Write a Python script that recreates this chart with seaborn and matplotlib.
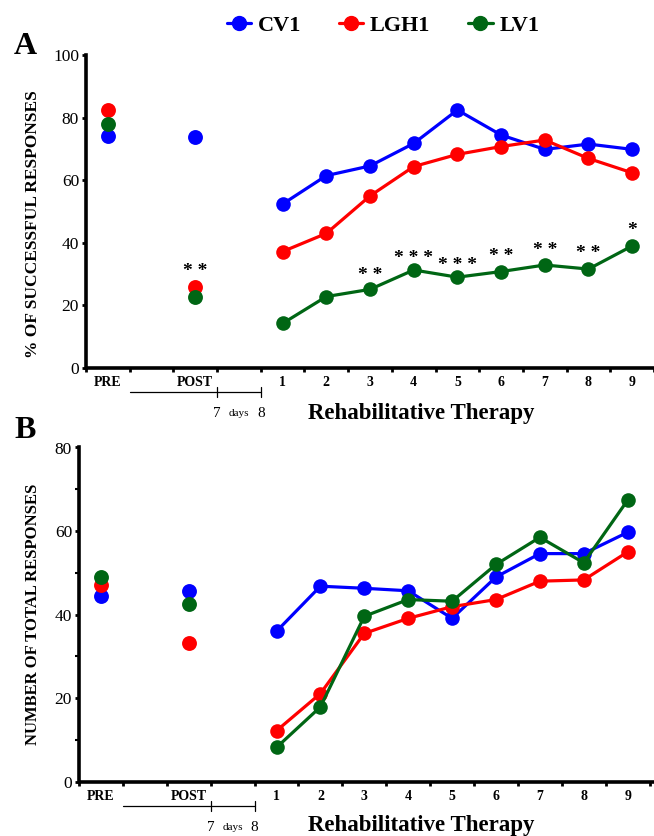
import numpy as np
import pandas as pd
import matplotlib.pyplot as plt
import seaborn as sns

# groups and colours
groups = ['CV1', 'LGH1', 'LV1']
colors = {'CV1': '#0000ff', 'LGH1': '#ff0000', 'LV1': '#006614'}

# x axis labels
phase_labels = ['PRE', 'POST']
session_labels = ['1', '2', '3', '4', '5', '6', '7', '8', '9']

# A - % of successful responses
a_pre = {'CV1': 74.2, 'LGH1': 82.4, 'LV1': 77.8}
a_post = {'CV1': 73.9, 'LGH1': 25.9, 'LV1': 22.5}
a_cv1 = [52.3, 61.4, 64.5, 71.7, 82.4, 74.4, 69.8, 71.5, 69.8]
a_lgh1 = [37.1, 42.9, 54.9, 64.3, 68.2, 70.7, 72.8, 66.9, 62.3]
a_lv1 = [14.1, 22.7, 25.0, 31.2, 28.9, 30.7, 32.8, 31.5, 38.9]

# significance marks in A
star_at = ['POST', '3', '4', '5', '6', '7', '8', '9']
star_txt = ['* *', '* *', '* * *', '* * *', '* *', '* *', '* *', '*']
star_y = [30.7, 29.6, 35.0, 32.8, 35.5, 37.6, 36.5, 43.8]

# B - number of total responses
b_pre = {'CV1': 44.5, 'LGH1': 47.1, 'LV1': 49.0}
b_post = {'CV1': 45.7, 'LGH1': 33.3, 'LV1': 42.5}
b_cv1 = [36.0, 46.8, 46.3, 45.7, 39.1, 49.0, 54.6, 54.6, 59.7]
b_lgh1 = [12.2, 21.1, 35.5, 39.1, 41.9, 43.6, 48.0, 48.3, 55.0]
b_lv1 = [8.2, 17.9, 39.6, 43.6, 43.2, 52.0, 58.5, 52.4, 67.4]

labels_all = phase_labels + session_labels
xpos = dict(zip(labels_all, [0.5, 2.5] + list(np.arange(9) + 4.5)))

sns.set_style('ticks')
serif = ['Liberation Serif', 'DejaVu Serif']
plt.rcParams['font.family'] = serif
for k in ['text.color', 'axes.labelcolor', 'xtick.color', 'ytick.color', 'axes.edgecolor']:
    plt.rcParams[k] = 'black'

W, H = 654, 836
fig = plt.figure(figsize=(W / 100, H / 100), dpi=100)


def box(left, right, top, bottom):
    return [left / W, 1 - bottom / H, (right - left) / W, (bottom - top) / H]


def make_long(pre, post, cv1, lgh1, lv1):
    lines = pd.DataFrame({
        'x': [xpos[s] for s in session_labels] * 3,
        'val': cv1 + lgh1 + lv1,
        'group': ['CV1'] * 9 + ['LGH1'] * 9 + ['LV1'] * 9,
    })
    pts = pd.DataFrame({
        'x': [xpos['PRE']] * 3 + [xpos['POST']] * 3,
        'val': [pre[g] for g in groups] + [post[g] for g in groups],
        'group': groups * 2,
    })
    return lines, pts


def draw_panel(ax, lines, pts, ymax, ystep, xmax):
    for g in groups:
        sns.lineplot(data=lines[lines.group == g], x='x', y='val', color=colors[g],
                     marker='o', markersize=10.5, markeredgewidth=0, linewidth=2.3,
                     ax=ax, legend=False, zorder=3)
        sns.scatterplot(data=pts[pts.group == g], x='x', y='val', color=colors[g],
                        s=115, linewidth=0, ax=ax, legend=False, zorder=3)
    ax.set_xlim(0, xmax)
    ax.set_ylim(0, ymax)
    ax.set_yticks(np.arange(0, ymax + 1, ystep))
    ax.set_xticks(np.arange(0, 14))
    ax.set_xticklabels([])
    ax.set_xticks([xpos[l] for l in labels_all], minor=True)
    ax.set_xticklabels(labels_all, minor=True, fontweight='bold', fontsize=10)
    ax.tick_params(axis='x', which='minor', length=0, pad=6)
    ax.tick_params(axis='both', which='major', length=3, width=2, labelsize=12.5, pad=2)
    ax.set_xlabel('')
    ax.set_ylabel('')
    sns.despine(ax=ax)
    for s in ['left', 'bottom']:
        ax.spines[s].set_linewidth(2.6)
    ax.spines['bottom'].set_capstyle('butt')


def draw_bracket(ax, ax_h):
    tr = ax.get_xaxis_transform()
    yl = -24.5 / ax_h
    ax.plot([1, 4], [yl, yl], color='black', lw=0.9, transform=tr, clip_on=False)
    for xv in [3, 4]:
        ax.plot([xv, xv], [yl + 5 / ax_h, yl - 5 / ax_h], color='black', lw=0.9,
                transform=tr, clip_on=False)
    yt = -46 / ax_h
    ax.text(3, yt, '7', transform=tr, ha='center', va='center', fontsize=11)
    ax.text(3.5, yt, 'days', transform=tr, ha='center', va='center', fontsize=8)
    ax.text(4, yt, '8', transform=tr, ha='center', va='center', fontsize=11)


# panel A
axA = fig.add_axes(box(86, 654, 55, 367.5))
lA, pA = make_long(a_pre, a_post, a_cv1, a_lgh1, a_lv1)
draw_panel(axA, lA, pA, 100, 20, 12.86)
draw_bracket(axA, 312.5)
for lab, txt, yv in zip(star_at, star_txt, star_y):
    axA.text(xpos[lab], yv, txt, ha='center', va='center', fontsize=14, fontweight='bold')

# panel B
axB = fig.add_axes(box(79, 654, 447.5, 781.7))
lB, pB = make_long(b_pre, b_post, b_cv1, b_lgh1, b_lv1)
draw_panel(axB, lB, pB, 80, 20, 13.1)
axB.set_yticks([10, 30, 50, 70], minor=True)
axB.tick_params(axis='y', which='minor', length=3, width=1.5)
draw_bracket(axB, 334.2)

# texts
fig.text(25 / W, 1 - 46 / H, 'A', fontsize=23, fontweight='bold', ha='center', va='center')
fig.text(25 / W, 1 - 431 / H, 'B', fontsize=23, fontweight='bold', ha='center', va='center')
fig.text(33 / W, 1 - 224 / H, '% OF SUCCESSFUL RESPONSES', rotation=90, fontsize=12.5,
         fontweight='bold', ha='center', va='center')
fig.text(33 / W, 1 - 614 / H, 'NUMBER OF TOTAL RESPONSES', rotation=90, fontsize=12,
         fontweight='bold', ha='center', va='center')
fig.text(421 / W, 1 - 414 / H, 'Rehabilitative Therapy', fontsize=16.5, fontweight='bold',
         ha='center', va='center')
fig.text(421 / W, 1 - 826 / H, 'Rehabilitative Therapy', fontsize=16.5, fontweight='bold',
         ha='center', va='center')

handles = [plt.Line2D([], [], color=colors[g], marker='o', markersize=10, lw=2.3) for g in groups]
fig.legend(handles, groups, loc='center', bbox_to_anchor=(383 / W, 1 - 26 / H), ncol=3,
           frameon=False, handlelength=1.1, handletextpad=0.3, columnspacing=1.7,
           prop={'family': serif, 'weight': 'bold', 'size': 16})

fig.savefig('out.png', dpi=100)
